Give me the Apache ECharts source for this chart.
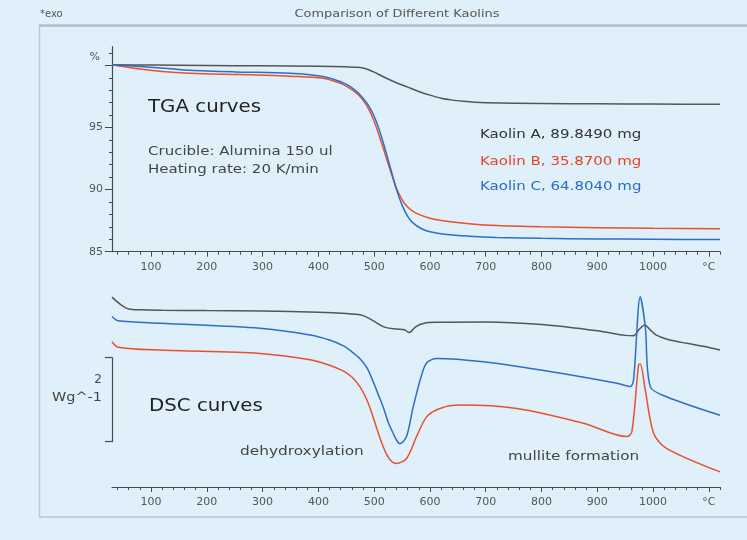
<!DOCTYPE html>
<html><head><meta charset="utf-8">
<script src="https://cdn.jsdelivr.net/npm/echarts@6/dist/echarts.min.js"></script>
<style>html,body{margin:0;padding:0;background:#dff0fa;}#c{width:747px;height:540px;}</style>
</head><body><div id="c"></div><script>
// ---- data ----
const sampleNames = ['Kaolin A', 'Kaolin B', 'Kaolin C'];
const sampleMasses = ['89.8490 mg', '35.8700 mg', '64.8040 mg'];
const chartTitle = 'Comparison of Different Kaolins';

const tgaTempA = [30,100,200,300,400,450,470,480,490,500,520,540,560,580,600,620,640,660,680,700,800,900,1000,1120];
const tgaMassA = [100.05,100.02,99.99,99.96,99.93,99.88,99.85,99.78,99.65,99.45,99.0,98.6,98.25,97.9,97.6,97.35,97.2,97.1,97.02,96.98,96.93,96.9,96.88,96.86];
const tgaTempB = [30,50,80,120,170,230,290,350,408,430,445,460,470,480,490,500,510,520,530,540,550,560,575,600,630,670,720,800,900,1000,1120];
const tgaMassB = [100.05,99.9,99.7,99.5,99.36,99.28,99.23,99.12,98.96,98.7,98.45,98.05,97.7,97.2,96.5,95.5,94.2,92.8,91.4,90.1,89.2,88.6,88.1,87.7,87.45,87.25,87.1,87.0,86.93,86.88,86.85];
const tgaTempC = [30,80,130,170,250,349,408,439,455,470,480,490,500,510,520,530,540,550,560,570,585,600,630,670,720,800,900,1000,1120];
const tgaMassC = [100.05,99.9,99.75,99.6,99.47,99.36,99.1,98.7,98.35,97.85,97.35,96.75,95.9,94.7,93.2,91.6,90.0,88.75,87.85,87.3,86.85,86.6,86.38,86.25,86.15,86.08,86.03,86.0,85.98];

// DSC heat flow (W/g, offset curves)
const dscTempA = [30,40,50,60,80,120,200,300,400,450,475,490,505,520,540,555,562,566,575,590,610,700,800,900,950,965,975,985,995,1005,1025,1060,1090,1120];
const dscFlowA = [4.52,4.40,4.30,4.24,4.22,4.21,4.20,4.19,4.16,4.13,4.10,4.02,3.90,3.80,3.76,3.74,3.68,3.70,3.82,3.90,3.92,3.93,3.87,3.72,3.61,3.60,3.75,3.86,3.74,3.62,3.52,3.42,3.35,3.26];
const dscTempB = [30,41,116,295,385,420,445,460,475,487,496,505,515,523,532,540,558,576,594,618,654,756,875,953,962,974,977,986,1001,1024,1120];
const dscFlowB = [3.46,3.33,3.26,3.18,3.03,2.90,2.76,2.62,2.38,2.07,1.75,1.38,1.00,0.76,0.60,0.56,0.68,1.20,1.67,1.87,1.95,1.87,1.52,1.20,1.32,2.91,2.93,2.31,1.28,0.92,0.36];
const dscTempC = [30,41,116,295,385,420,445,460,475,487,500,508,516,525,534,540,546,558,570,584,594,612,696,815,935,959,965,977,986,995,1024,1120];
const dscFlowC = [4.06,3.96,3.90,3.78,3.62,3.50,3.36,3.22,3.05,2.84,2.45,2.18,1.91,1.55,1.28,1.12,1.03,1.20,1.91,2.62,2.95,3.06,2.98,2.75,2.47,2.39,2.55,4.53,3.82,2.39,2.15,1.71];

const xLabelValues = [100,200,300,400,500,600,700,800,900,1000,1100];
const xUnitLabel = '°C';
const tgaLabelValues = [85,90,95,100];
const tgaUnitLabel = '%';
const scaleBarValue = 2;
const scaleBarUnit = 'Wg^-1';

const notes = {
  tga: 'TGA curves', dsc: 'DSC curves',
  crucible: 'Crucible: Alumina 150 ul', rate: 'Heating rate: 20 K/min',
  dehyd: 'dehydroxylation', mullite: 'mullite formation', exo: '*exo'
};

// ---- styles ----
const colors = ['#555555', '#e8502f', '#2f6ec6'];
const axisColor = '#4a4a4a';
const FONT = 'DejaVu Sans';
const X_MIN = 30, X_MAX = 1120;

const minorX = []; for (let v = 40; v <= 1120; v += 20) minorX.push(v);
const minorY = []; for (let v = 85; v <= 101; v += 1) minorY.push(v);

function pairs(t, v) { return t.map((x, i) => [x, v[i]]); }

function xAxes(grid) {
  return [
    { type: 'value', gridIndex: grid, position: 'bottom', min: X_MIN, max: X_MAX,
      axisLine: { show: true, lineStyle: { color: axisColor, width: 1.2 } },
      axisTick: { show: true, customValues: minorX, length: 3, lineStyle: { color: axisColor } },
      axisLabel: { show: false }, splitLine: { show: false } },
    { type: 'value', gridIndex: grid, position: 'bottom', min: X_MIN, max: X_MAX,
      axisLine: { show: false },
      axisTick: { show: true, customValues: xLabelValues, length: 5, lineStyle: { color: axisColor } },
      axisLabel: { show: true, customValues: xLabelValues, margin: 10, color: '#555', fontFamily: FONT, fontSize: 11,
        formatter: v => v === 1100 ? xUnitLabel : String(v) },
      splitLine: { show: false } }
  ];
}

const graphicText = (text, x, y, size, fill, opts) => ({
  type: 'text', x: x, y: y, scaleX: (opts && opts.sx) || 1.18, silent: true,
  style: { text: text, fontFamily: FONT, fontSize: size, fill: fill, align: (opts && opts.align) || 'left', verticalAlign: 'middle' }
});

const chart = echarts.init(document.getElementById('c'), null, { renderer: 'canvas' });
const option = {
  backgroundColor: '#dff0fa',
  animation: false,
  grid: [
    { left: 112, top: 46.7, width: 608, height: 205 },
    { left: 112, top: 277, width: 608, height: 210 },
    { left: 112, top: 357.7, width: 2, height: 84 }
  ],
  xAxis: [].concat(xAxes(0), xAxes(1), [{ type: 'value', gridIndex: 2, min: 0, max: 1, show: false }]),
  yAxis: [
    { type: 'value', gridIndex: 0, position: 'left', min: 85, max: 101.5,
      axisLine: { show: true, lineStyle: { color: axisColor, width: 1.2 } },
      axisTick: { show: true, customValues: minorY, length: 3, lineStyle: { color: axisColor } },
      axisLabel: { show: false }, splitLine: { show: false } },
    { type: 'value', gridIndex: 0, position: 'left', min: 85, max: 101.5,
      axisLine: { show: false },
      axisTick: { show: true, customValues: tgaLabelValues, length: 7, lineStyle: { color: axisColor } },
      axisLabel: { show: true, customValues: tgaLabelValues, margin: 9, color: '#555', fontFamily: FONT, fontSize: 11,
        formatter: v => v === 100 ? '{p|' + tgaUnitLabel + '}' : String(v),
        rich: { p: { fontFamily: FONT, fontSize: 11, color: '#555', padding: [0, 3, 17, 0] } } },
      splitLine: { show: false } },
    { type: 'value', gridIndex: 1, min: 0, max: 5, show: false },
    { type: 'value', gridIndex: 2, position: 'left', min: 0, max: scaleBarValue,
      axisLine: { show: true, lineStyle: { color: axisColor, width: 1.2 } },
      axisTick: { show: true, customValues: [0, scaleBarValue], length: 7, lineStyle: { color: axisColor, width: 1.2 } },
      axisLabel: { show: false }, splitLine: { show: false } }
  ],
  series: [
    { name: sampleNames[0], type: 'line', xAxisIndex: 0, yAxisIndex: 0, data: pairs(tgaTempA, tgaMassA) },
    { name: sampleNames[1], type: 'line', xAxisIndex: 0, yAxisIndex: 0, data: pairs(tgaTempB, tgaMassB) },
    { name: sampleNames[2], type: 'line', xAxisIndex: 0, yAxisIndex: 0, data: pairs(tgaTempC, tgaMassC) },
    { name: sampleNames[0], type: 'line', xAxisIndex: 2, yAxisIndex: 2, data: pairs(dscTempA, dscFlowA) },
    { name: sampleNames[1], type: 'line', xAxisIndex: 2, yAxisIndex: 2, data: pairs(dscTempB, dscFlowB) },
    { name: sampleNames[2], type: 'line', xAxisIndex: 2, yAxisIndex: 2, data: pairs(dscTempC, dscFlowC) }
  ].map((s, i) => Object.assign(s, {
    showSymbol: false, smooth: 0.3, silent: true,
    lineStyle: { color: colors[i % 3], width: 1.5 }, itemStyle: { color: colors[i % 3] }
  })),
  graphic: [
    { type: 'line', silent: true, shape: { x1: 39.5, y1: 25, x2: 39.5, y2: 517 }, style: { stroke: '#bccad3', lineWidth: 1.5 } },
    { type: 'line', silent: true, shape: { x1: 39, y1: 25.5, x2: 747, y2: 25.5 }, style: { stroke: '#aebfc9', lineWidth: 2.5 } },
    { type: 'line', silent: true, shape: { x1: 39, y1: 517, x2: 747, y2: 517 }, style: { stroke: '#c3d2da', lineWidth: 2 } },
    graphicText(notes.exo, 40, 14, 10, '#555', { sx: 1 }),
    graphicText(chartTitle, 397, 14, 10.5, '#555', { sx: 1.23, align: 'center' }),
    graphicText(notes.tga, 148, 107, 18, '#222', { sx: 1.1 }),
    graphicText(notes.crucible, 148, 152, 12.5, '#444', { sx: 1.2 }),
    graphicText(notes.rate, 148, 170, 12.5, '#444', { sx: 1.2 }),
    graphicText(sampleNames[0] + ', ' + sampleMasses[0], 480, 135, 12.5, '#333', { sx: 1.2 }),
    graphicText(sampleNames[1] + ', ' + sampleMasses[1], 480, 162, 12.5, '#e8432a', { sx: 1.2 }),
    graphicText(sampleNames[2] + ', ' + sampleMasses[2], 480, 187, 12.5, '#2a6bc4', { sx: 1.2 }),
    graphicText(notes.dsc, 149, 406, 18, '#222', { sx: 1.1 }),
    graphicText(notes.dehyd, 240, 452, 13, '#444', { sx: 1.18 }),
    graphicText(notes.mullite, 508, 457, 13, '#444', { sx: 1.17 }),
    graphicText(String(scaleBarValue), 102, 380, 12, '#444', { sx: 1, align: 'right' }),
    { type: 'text', x: 52, y: 398, scaleX: 1.2, silent: true,
      style: { text: scaleBarUnit, fontFamily: FONT, fontSize: 12, fill: '#444', align: 'left', verticalAlign: 'middle' } }
  ]
};
chart.setOption(option);
</script></body></html>
